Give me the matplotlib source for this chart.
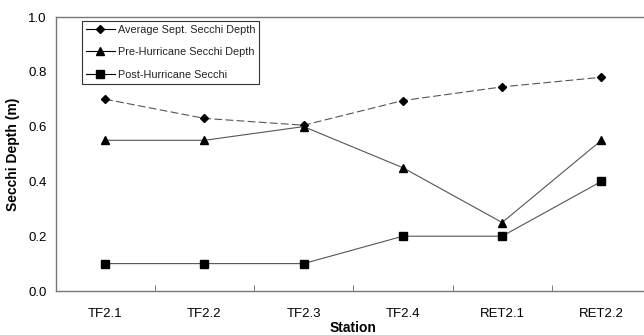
import matplotlib
matplotlib.use("Agg")
import matplotlib.pyplot as plt
from matplotlib.lines import Line2D

stations = ["TF2.1", "TF2.2", "TF2.3", "TF2.4", "RET2.1", "RET2.2"]
avg_sept = [0.70, 0.63, 0.605, 0.695, 0.745, 0.78]
pre_hurricane = [0.55, 0.55, 0.60, 0.45, 0.25, 0.55]
post_hurricane = [0.10, 0.10, 0.10, 0.20, 0.20, 0.40]
y_ticks = [0.0, 0.2, 0.4, 0.6, 0.8, 1.0]

plt.rcParams['font.family'] = ['Liberation Sans', 'DejaVu Sans']

W, H = 644, 335
fig = plt.figure(figsize=(W / 100, H / 100), dpi=100)
left, right, top, bottom = 55.5, 651, 17, 291
ax = fig.add_axes([left / W, 1 - bottom / H, (right - left) / W, (bottom - top) / H])

x = list(range(len(stations)))
line_col = "#555555"
ax.plot(x, avg_sept, color=line_col, lw=0.8, dashes=(7, 3),
        marker="D", ms=4.5, mfc="black", mec="black")
ax.plot(x, pre_hurricane, color=line_col, lw=0.8,
        marker="^", ms=5.8, mfc="black", mec="black")
ax.plot(x, post_hurricane, color=line_col, lw=0.8,
        marker="s", ms=5.3, mfc="black", mec="black")

ax.set_xlim(-0.5, len(stations) - 0.5)
ax.set_ylim(0, 1.0)
ax.set_yticks(y_ticks)
ax.set_yticklabels([f"{v:.1f}" for v in y_ticks], fontsize=9.5)
ax.tick_params(axis="y", length=0, pad=6.5)
ax.set_xticks(x)
ax.set_xticklabels(stations, fontsize=9.5)
ax.set_xticks([i + 0.5 for i in range(len(stations) - 1)], minor=True)
ax.tick_params(axis="x", which="major", length=0, pad=12)
ax.tick_params(axis="x", which="minor", direction="in", length=4, color="#666666")

for s in ["left", "bottom", "top"]:
    ax.spines[s].set_color("#777777")
    ax.spines[s].set_linewidth(1.0)
ax.spines["right"].set_visible(False)

ax.set_ylabel("Secchi Depth (m)", fontsize=10, fontweight="bold", labelpad=6)
ax.set_xlabel("Station", fontsize=10, fontweight="bold", labelpad=1)

handles = [
    Line2D([], [], color="black", lw=0.8, marker="D", ms=4.3, mfc="black"),
    Line2D([], [], color="black", lw=0.8, marker="^", ms=5.5, mfc="black"),
    Line2D([], [], color="black", lw=0.8, marker="s", ms=5.3, mfc="black"),
]
labels = ["Average Sept. Secchi Depth", "Pre-Hurricane Secchi Depth", "Post-Hurricane Secchi"]
leg = ax.legend(handles, labels, loc="upper left",
                bbox_to_anchor=((82 - left) / (right - left), 1 - (21 - top) / (bottom - top)),
                fontsize=7.8, frameon=True, fancybox=False, edgecolor="black",
                handlelength=2.7, handletextpad=0.25, labelspacing=1.15,
                borderpad=0.35, borderaxespad=0)
leg.get_frame().set_linewidth(0.8)
for t in leg.get_texts():
    t.set_color("#222222")

fig.savefig("out.png", dpi=100)
